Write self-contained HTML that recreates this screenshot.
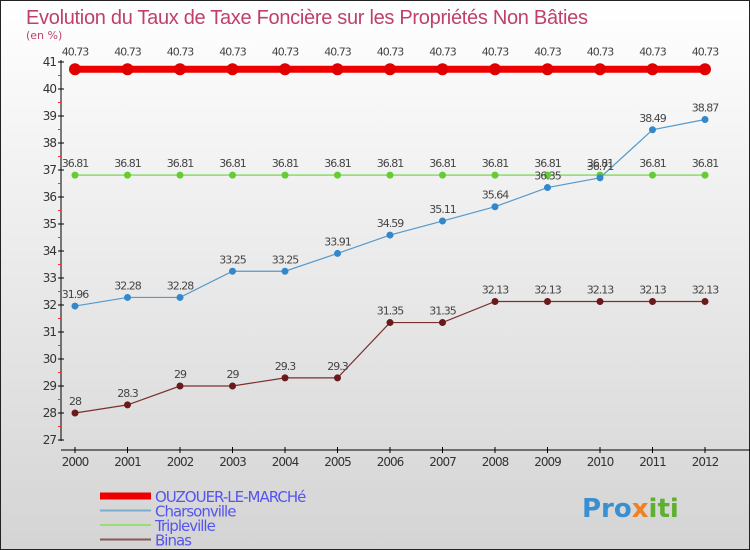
<!DOCTYPE html>
<html><head><meta charset="utf-8"><style>
body{margin:0}
svg{display:block;font-family:"DejaVu Sans","Liberation Sans",sans-serif}
</style></head><body>
<svg id="chart" width="750" height="550" xmlns="http://www.w3.org/2000/svg">
<defs><linearGradient id="bg" x1="0" y1="0" x2="0" y2="1"><stop offset="0" stop-color="#ffffff"/><stop offset="1" stop-color="#d4d4d4"/></linearGradient></defs>
<rect x="0.5" y="0.5" width="749" height="549" fill="url(#bg)" stroke="#222"/>
<text x="26" y="24" font-size="20" fill="#c0406a" style="font-family:'Liberation Sans',sans-serif" textLength="562">Evolution du Taux de Taxe Foncière sur les Propriétés Non Bâties</text>
<text x="26" y="39" font-size="11" fill="#c0406a">(en %)</text>
<g id="axes"></g>
<g id="series"></g>
<g id="legend"></g>
<text x="582" y="517" font-size="26" font-weight="bold" fill="#3a8fd0">Pro<tspan fill="#f08020">x</tspan><tspan fill="#60b030">iti</tspan></text>
</svg>
<script>
const years=[2000,2001,2002,2003,2004,2005,2006,2007,2008,2009,2010,2011,2012];
const ouzouer=[40.73,40.73,40.73,40.73,40.73,40.73,40.73,40.73,40.73,40.73,40.73,40.73,40.73];
const charsonville=[31.96,32.28,32.28,33.25,33.25,33.91,34.59,35.11,35.64,36.35,36.71,38.49,38.87];
const tripleville=[36.81,36.81,36.81,36.81,36.81,36.81,36.81,36.81,36.81,36.81,36.81,36.81,36.81];
const binas=[28,28.3,29,29,29.3,29.3,31.35,31.35,32.13,32.13,32.13,32.13,32.13];
const yTicks=[27,28,29,30,31,32,33,34,35,36,37,38,39,40,41];
const NS="http://www.w3.org/2000/svg";
const xs=i=>75+i*52.5;
const ys=v=>440-(v-27)*27;
function mk(tag,attrs,parent,txt){const e=document.createElementNS(NS,tag);for(const k in attrs)e.setAttribute(k,attrs[k]);if(txt!==undefined)e.textContent=txt;parent.appendChild(e);return e;}
const ax=document.getElementById('axes');
let e=mk('line',{x1:61,y1:60,x2:61,y2:441,stroke:'#000'},ax);


e=mk('line',{x1:61,y1:450,x2:750,y2:450,stroke:'#000'},ax);


yTicks.forEach(v=>{const y=ys(v);
 mk('line',{x1:58,y1:y,x2:64,y2:y,stroke:'#000'},ax);
 if(v<41)mk('line',{x1:58,y1:y-13.5,x2:61,y2:y-13.5,stroke:'#e33'},ax);
 const t=mk('text',{x:56,y:y+4,'font-size':12,'text-anchor':'end',fill:'#333','letter-spacing':'-1'},ax,v);
 
 
});
years.forEach((yr,i)=>{const x=xs(i);
 mk('line',{x1:x,y1:447,x2:x,y2:453,stroke:'#000'},ax);
 const t=mk('text',{x:x,y:466,'font-size':12,'text-anchor':'middle',fill:'#333','letter-spacing':'-1'},ax,yr);
 
 
});
const sg=document.getElementById('series');
function series(name,vals,color,dot,w,r,lblOff){
 const g=mk('g',{},sg);
 
 
 const p=mk('polyline',{points:vals.map((v,i)=>xs(i)+','+ys(v)).join(' '),fill:'none',stroke:color,'stroke-width':w},g);
 
 
 vals.forEach((v,i)=>{
  const c=mk('circle',{cx:xs(i),cy:ys(v),r:r,fill:dot},g);
  
  
  const t=mk('text',{x:xs(i),y:ys(v)-lblOff,'font-size':11,'text-anchor':'middle',fill:'#444','letter-spacing':'-1'},g,String(v));
  
  
 });
}
series('tripleville',tripleville,'#88dd66','#66cc33',1.5,3.5,8);
series('charsonville',charsonville,'#5599cc','#3388cc',1.2,3.5,8);
series('binas',binas,'#7a3030','#6a1a1a',1.2,3.5,8);
series('ouzouer',ouzouer,'#ee0000','#e00000',7,6,14);
const lg=document.getElementById('legend');
const items=[['OUZOUER-LE-MARCHé','#ee0000',7],['Charsonville','#7aaed0',2],['Tripleville','#99dd77',2],['Binas','#8a5555',2]];
items.forEach((it,i)=>{const y=496+i*14.5;
 const g=mk('g',{},lg);
 
 
 mk('line',{x1:100,y1:y,x2:151,y2:y,stroke:it[1],'stroke-width':it[2]},g);
 mk('text',{x:155,y:y+6,'font-size':15,fill:'#5555ee','letter-spacing':'-1'},g,it[0]);
});
</script>
</body></html>
